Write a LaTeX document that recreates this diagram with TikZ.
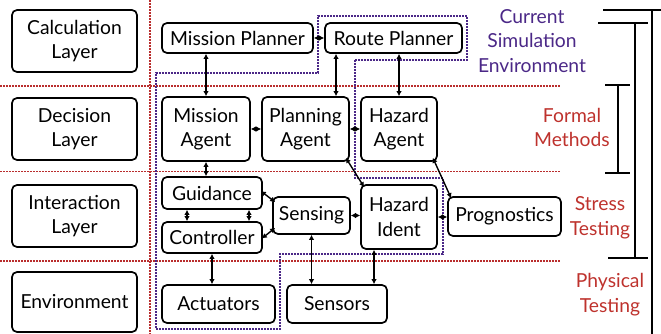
\documentclass[tikz,border=0pt]{standalone}
\usepackage{fontspec}
\setmainfont{Lato}
\usetikzlibrary{arrows.meta,calc}
\definecolor{dred}{RGB}{185,45,45}
\definecolor{dpur}{RGB}{75,40,135}
\definecolor{tred}{RGB}{190,50,45}
\begin{document}
\begin{tikzpicture}[x=1pt,y=-1pt,
  txt/.style={font=\fontsize{19.3}{24.5}\selectfont,align=center,inner sep=0pt},
  box/.style={txt,draw,line width=1.7pt,rounded corners=5pt},
  arr/.style={line width=1.4pt,{Latex[length=5pt,width=5.5pt]}-{Latex[length=5pt,width=5.5pt]}},
  rdot/.style={draw=dred,line width=1.8pt,dash pattern=on 1.6pt off 1.4pt},
  pdot/.style={draw=dpur,line width=1.8pt,dash pattern=on 1.6pt off 1.4pt}]
\useasboundingbox (0,0) rectangle (661,334);
% separators
\draw[rdot] (0,86) -- (560,86);
\draw[rdot] (0,171.5) -- (560,171.5);
\draw[rdot] (0,261) -- (560,261);
\draw[rdot] (150,0) -- (150,334);
\draw[pdot] (355,60) -- (355,178) -- (443,178) -- (443,254) -- (280,254) -- (280,329) -- (156,329) -- (156,73) -- (318,73) -- (318,16) -- (467,16) -- (467,60) -- cycle;
% layer boxes
\node[box,minimum width=125pt,minimum height=62pt] (cl) at (74.5,41) {Calculation\\Layer};
\node[box,minimum width=125pt,minimum height=62pt] (dl) at (74.5,129) {Decision\\Layer};
\node[box,minimum width=125pt,minimum height=62pt] (il) at (74.5,216) {Interaction\\Layer};
\node[box,minimum width=125pt,minimum height=60pt] (el) at (74.5,302) {Environment};
% components
\node[box,minimum width=151pt,minimum height=30pt] (mp) at (237.5,38) {Mission Planner};
\node[box,minimum width=137pt,minimum height=30pt] (rp) at (393.5,38) {Route Planner};
\node[box,minimum width=88pt,minimum height=64pt] (ma) at (206,129) {Mission\\Agent};
\node[box,minimum width=87pt,minimum height=64pt] (pa) at (305.5,129) {Planning\\Agent};
\node[box,minimum width=76pt,minimum height=64pt] (ha) at (399,129) {Hazard\\Agent};
\node[box,minimum width=100pt,minimum height=32pt] (gd) at (212,193) {Guidance};
\node[box,minimum width=100pt,minimum height=31pt] (ct) at (212,237.5) {Controller};
\node[box,minimum width=77pt,minimum height=37pt] (sn) at (311.5,215.5) {Sensing};
\node[box,minimum width=76pt,minimum height=64pt] (hi) at (399,217) {Hazard\\Ident};
\node[box,minimum width=113pt,minimum height=39pt] (pg) at (504.5,216.5) {Prognostics};
\node[box,minimum width=113pt,minimum height=38pt] (ac) at (218.5,304) {Actuators};
\node[box,minimum width=100pt,minimum height=38pt] (ss) at (337,304) {Sensors};
% connectors
\coordinate (x1) at (336,0);
\coordinate (x2) at (187,0);
\coordinate (x3) at (249,0);
\coordinate (x4) at (374,0);
\draw[arr] (mp.east) -- (rp.west);
\draw[arr] (mp.south -| ma.north) -- (ma.north);
\draw[arr] (rp.south -| x1) -- (pa.north -| x1);
\draw[arr] (rp.south -| ha.north) -- (ha.north);
\draw[arr] (ma.east) -- (pa.west);
\draw[arr] (pa.east) -- (ha.west);
\draw[arr] (ma.south) -- (gd.north -| ma.south);
\draw[arr] ($(pa.south east)+(-4,-4)$) -- ($(hi.north west)+(4,3)$);
\draw[arr] ($(ha.south east)+(-5,-4)$) -- ($(pg.north west)+(4,2)$);
\draw[arr] (gd.south -| x2) -- (ct.north -| x2);
\draw[arr] (gd.south -| x3) -- (ct.north -| x3);
\draw[arr] ($(gd.east)+(-2,-2)$) -- ($(sn.north west)+(3,6)$);
\draw[arr] ($(ct.east)+(-1,1)$) -- ($(sn.south west)+(3,-7)$);
\draw[arr] (sn.east) -- (sn.east -| hi.west);
\draw[arr] (hi.east) -- (hi.east -| pg.west);
\draw[arr] (ct.south) -- (ct.south |- ac.north);
\draw[arr] (sn.south) -- (sn.south |- ss.north);
\draw[arr] (hi.south -| x4) -- (ss.north -| x4);
% right labels
\node[txt,text=dpur] (cse) at (532,41) {Current\\Simulation\\Environment};
\node[txt,text=tred] (fm) at (572,127.5) {Formal\\Methods};
\node[txt,text=tred] (st) at (600,218) {Stress\\Testing};
\node[txt,text=tred] (pt) at (610,294.5) {Physical\\Testing};
% brackets
\draw[line width=2pt] (603,10) -- (661,10) (652,10) -- (652,334);
\draw[line width=1.6pt] (598,23) -- (648,23) (635,23) -- (635,258);
\draw[line width=2pt] (608,258) -- (648,258);
\draw[line width=1.3pt] (605,85) -- (630,85) (618,85) -- (618,173) (605,173) -- (630,173);
\end{tikzpicture}
\end{document}
